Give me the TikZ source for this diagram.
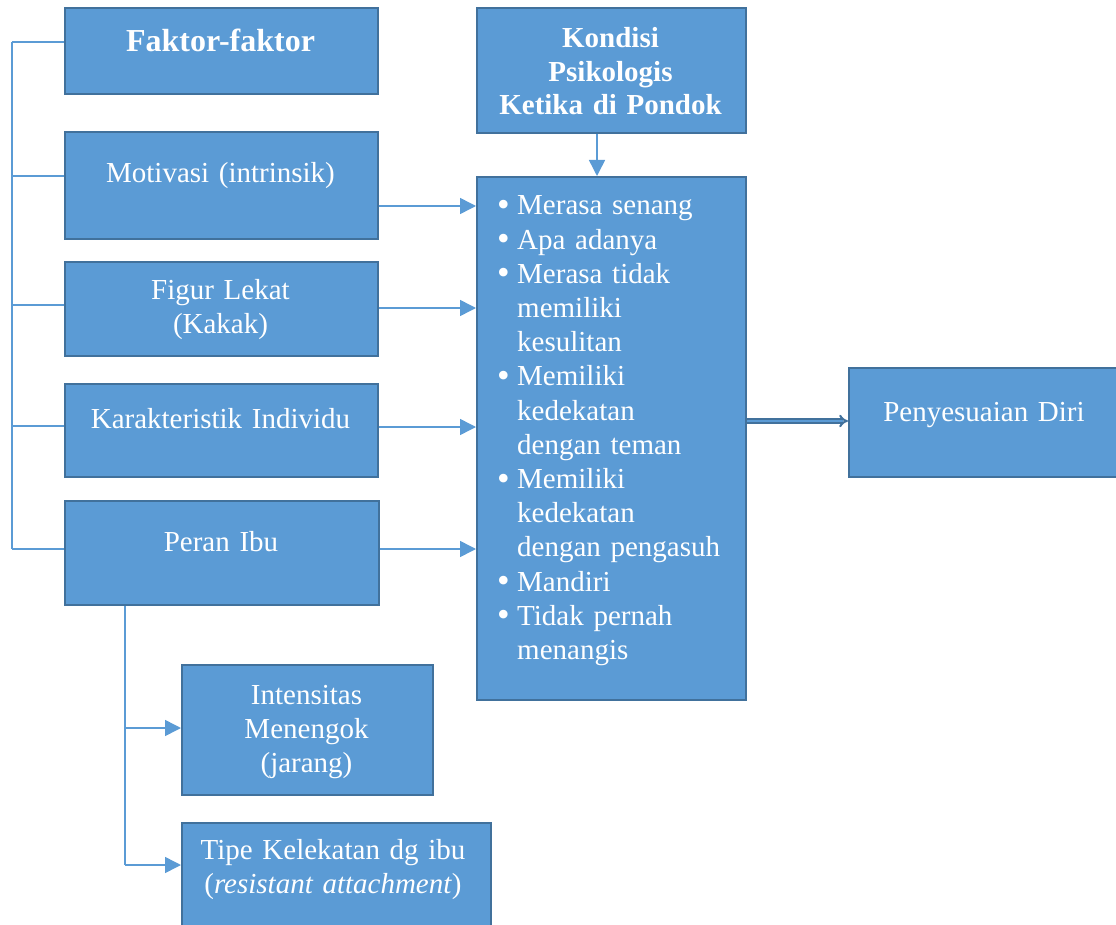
\documentclass[tikz,border=0pt]{standalone}
\usepackage{fontspec}
\setmainfont{Liberation Serif}
\usetikzlibrary{arrows.meta}
\definecolor{boxfill}{HTML}{5B9BD5}
\definecolor{boxline}{HTML}{41719C}
\definecolor{connc}{HTML}{5B9BD5}
\newcommand\lbul{\makebox[18pt][l]{\hspace*{-2pt}\raisebox{-1.5pt}{\fontsize{36}{34}\selectfont\textbullet}}}
\newcommand\lind{\hspace*{18pt}}
\begin{document}
\begin{tikzpicture}[x=1pt,y=-1pt,
  box/.style={draw=boxline, fill=boxfill, line width=2pt, inner sep=0pt, anchor=north west, rectangle},
  txt/.style={text=white, inner sep=0pt, anchor=base, align=center, font=\fontsize{29}{34.2}\selectfont},
  conn/.style={draw=connc, line width=1.5pt},
  arr/.style={conn, -{Triangle[length=16pt,width=16pt]}},
]
\useasboundingbox (0,0) rectangle (1116,925);
\clip (0,0) rectangle (1116,925);
% boxes
\node[box, minimum width=313pt, minimum height=86pt]  (faktor)   at (64,7) {};
\node[box, minimum width=313pt, minimum height=107pt] (motivasi) at (64,131) {};
\node[box, minimum width=313pt, minimum height=94pt]  (figur)    at (64,261) {};
\node[box, minimum width=313pt, minimum height=93pt]  (karak)    at (64,383) {};
\node[box, minimum width=314pt, minimum height=104pt] (peran)    at (64,500) {};
\node[box, minimum width=269pt, minimum height=125pt] (kondisi)  at (476,7) {};
\node[box, minimum width=269pt, minimum height=523pt] (list)     at (476,176) {};
\node[box, minimum width=272pt, minimum height=109pt] (penyes)   at (848,367) {};
\node[box, minimum width=251pt, minimum height=130pt] (intens)   at (181,664) {};
\node[box, minimum width=309pt, minimum height=130pt] (tipe)     at (181,822) {};
% texts
\node[txt, text width=300pt, font=\bfseries\fontsize{32}{36}\selectfont] (tfaktor) at (220.5,52) {Faktor-faktor};
\node[txt, text width=300pt] (tmotivasi) at (220.5,183) {Motivasi (intrinsik)};
\node[txt, text width=300pt] (tfigur) at (220.5,299) {Figur Lekat\\(Kakak)};
\node[txt, text width=300pt] (tkarak) at (220.5,428) {Karakteristik Individu};
\node[txt, text width=300pt] (tperan) at (221,551) {Peran Ibu};
\node[txt, text width=260pt, font=\bfseries\fontsize{29}{33.5}\selectfont] (tkondisi) at (610.5,48) {Kondisi\\Psikologis\\Ketika di Pondok};
\node[txt, text width=260pt] (tpenyes) at (984,421) {Penyesuaian Diri};
\node[txt, text width=240pt] (tintens) at (306.5,704) {Intensitas\\Menengok\\(jarang)};
\node[txt, text width=300pt] (ttipe) at (333,859) {Tipe Kelekatan dg ibu\\(\textit{resistant attachment})};
\node[txt, text width=245pt, align=left, anchor=base west] (tlist) at (499,215)
 {\lbul Merasa senang\\
  \lbul Apa adanya\\
  \lbul Merasa tidak\\
  \lind memiliki\\
  \lind kesulitan\\
  \lbul Memiliki\\
  \lind kedekatan\\
  \lind dengan teman\\
  \lbul Memiliki\\
  \lind kedekatan\\
  \lind dengan pengasuh\\
  \lbul Mandiri\\
  \lbul Tidak pernah\\
  \lind menangis};
% left bracket
\coordinate (b1) at (12,42);
\coordinate (b2) at (12,176);
\coordinate (b3) at (12,305);
\coordinate (b4) at (12,426);
\coordinate (b5) at (12,549);
\draw[conn] (b1) -- (b5);
\draw[conn] (b1) -- (b1 -| faktor.west);
\draw[conn] (b2) -- (b2 -| motivasi.west);
\draw[conn] (b3) -- (b3 -| figur.west);
\draw[conn] (b4) -- (b4 -| karak.west);
\draw[conn] (b5) -- (b5 -| peran.west);
% arrows into list
\draw[arr] (motivasi.east |- 0,206) -- (list.west |- 0,206);
\draw[arr] (figur.east |- 0,308) -- (list.west |- 0,308);
\draw[arr] (karak.east |- 0,427) -- (list.west |- 0,427);
\draw[arr] (peran.east |- 0,549) -- (list.west |- 0,549);
\draw[arr] (kondisi.south -| 597,0) -- (list.north -| 597,0);
% double arrow to Penyesuaian
\draw[draw=boxline, line width=2pt, double=connc, double distance=2pt, -{Implies}] (list.east |- 0,421) -- (penyes.west |- 0,421);
% Peran Ibu branch
\coordinate (p1) at (125,728);
\coordinate (p2) at (125,865);
\draw[conn] (peran.south -| p1) -- (p2);
\draw[arr] (p1) -- (p1 -| intens.west);
\draw[arr] (p2) -- (p2 -| tipe.west);
\end{tikzpicture}
\end{document}
